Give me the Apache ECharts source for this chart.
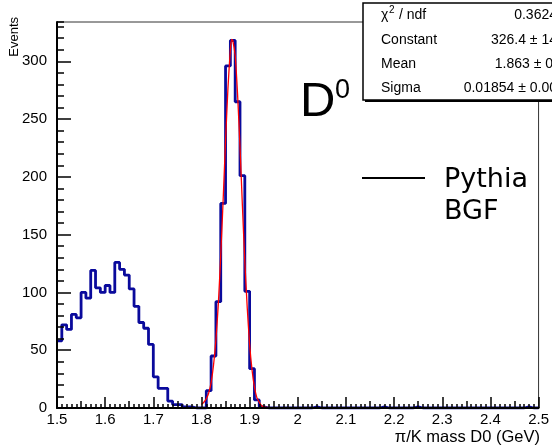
<!DOCTYPE html>
<html><head><meta charset="utf-8">
<script src="https://cdn.jsdelivr.net/npm/echarts@6/dist/echarts.min.js"></script>
<style>html,body{margin:0;padding:0;background:#fff}#c{width:552px;height:448px}</style>
</head><body><div id="c"></div>
<script>
// Histogram: 100 bins of width 0.01 from 1.5 to 2.5
const histMin = 1.5;
const histMax = 2.5;
const binWidth = 0.01;
const counts = [
  58, 72, 68, 81, 78, 100, 95, 119, 104, 100,
  106, 100, 126, 120, 115, 103, 88, 74, 69, 55,
  27, 17, 17, 6, 3, 3, 1, 1, 0, 0,
  0, 15, 45, 92, 177, 296, 318, 265, 201, 101,
  34, 7, 1, 0, 0, 0, 0, 0, 0, 0,
  0, 0, 0, 1, 0, 0, 0, 0, 0, 0,
  0, 0, 0, 0, 0, 0, 0, 1, 0, 0,
  0, 0, 0, 0, 1, 0, 0, 0, 0, 0,
  0, 0, 0, 0, 0, 0, 0, 0, 0, 0,
  0, 0, 0, 0, 0, 0, 0, 1, 0, 0
];
// Gaussian fit curve (red)
const fitMass = [1.800, 1.805, 1.810, 1.815, 1.820, 1.825, 1.830, 1.835, 1.840, 1.845, 1.850, 1.855, 1.860, 1.8625, 1.865, 1.870, 1.875, 1.880, 1.885, 1.890, 1.895, 1.900, 1.905, 1.910, 1.915, 1.920, 1.925, 1.930, 1.940, 1.950];
const fitValue = [3, 5, 8, 13, 22, 37, 59, 90, 132, 180, 231, 277, 310, 319, 318, 305, 271, 226, 175, 127, 87, 55, 33, 18, 9, 5, 2, 1, 0.2, 0];

const statLabels = ['χ', 'Constant', 'Mean', 'Sigma'];
const statValues = ['0.3624', '326.4 ± 14', '1.863 ± 0.', '0.01854 ± 0.00'];

const FONT = 'Liberation Sans';

const histData = counts.map((c, i) => [+(histMin + i * binWidth).toFixed(2), c]);
histData.push([histMax, counts[counts.length - 1]]);
const fitData = fitMass.map((m, i) => [m, fitValue[i]]);

const chart = echarts.init(document.getElementById('c'), null, {renderer: 'canvas'});

const rowY = [15, 40, 64.5, 88];
const graphics = [
  {type: 'rect', z: 100, shape: {x: 365, y: 5, width: 200, height: 97}, style: {fill: '#000'}},
  {type: 'rect', z: 101, shape: {x: 363, y: 3, width: 200, height: 97}, style: {fill: '#fff', stroke: '#000', lineWidth: 1.5}},
  {type: 'text', z: 102, x: 381, y: rowY[0], style: {text: 'χ', font: '14px ' + FONT, fill: '#000', verticalAlign: 'middle'}},
  {type: 'text', z: 102, x: 389, y: rowY[0] - 5, style: {text: '2', font: '10px ' + FONT, fill: '#000', verticalAlign: 'middle'}},
  {type: 'text', z: 102, x: 395, y: rowY[0], style: {text: ' / ndf', font: '14px ' + FONT, fill: '#000', verticalAlign: 'middle'}},
];
for (let i = 1; i < 4; i++) {
  graphics.push({type: 'text', z: 102, x: 381, y: rowY[i], style: {text: statLabels[i], font: '14px ' + FONT, fill: '#000', verticalAlign: 'middle'}});
}
for (let i = 0; i < 4; i++) {
  graphics.push({type: 'text', z: 102, x: 557, y: rowY[i], style: {text: statValues[i], font: '14px ' + FONT, fill: '#000', align: 'right', verticalAlign: 'middle'}});
}
graphics.push(
  {type: 'text', z: 102, x: 300, y: 102, style: {text: 'D', font: '49px ' + FONT, fill: '#000', verticalAlign: 'middle'}},
  {type: 'text', z: 102, x: 335, y: 91, style: {text: '0', font: '27px ' + FONT, fill: '#000', verticalAlign: 'middle'}},
  {type: 'line', z: 102, shape: {x1: 362, y1: 178, x2: 425, y2: 178}, style: {stroke: '#000', lineWidth: 2}},
  {type: 'text', z: 102, x: 444, y: 180, style: {text: 'Pythia', font: '27px "DejaVu Sans"', fill: '#000', verticalAlign: 'middle'}},
  {type: 'text', z: 102, x: 444, y: 212, style: {text: 'BGF', font: '27px "DejaVu Sans"', fill: '#000', verticalAlign: 'middle'}},
  {type: 'text', z: 102, x: 14, y: 17, rotation: Math.PI / 2, style: {text: 'Events', font: '13px ' + FONT, fill: '#000', align: 'right', verticalAlign: 'middle'}},
  {type: 'text', z: 102, x: 540, y: 437, style: {text: 'π/K mass D0 (GeV)', font: '16.5px ' + FONT, fill: '#000', align: 'right', verticalAlign: 'middle'}}
);

const option = {
  animation: false,
  backgroundColor: '#fff',
  grid: {left: 57, right: 12, top: 22, bottom: 40, show: true, borderColor: '#333', borderWidth: 1, containLabel: false},
  xAxis: [
    {
      type: 'value', min: histMin, max: histMax, interval: 0.1, position: 'bottom', z: 5,
      axisLine: {lineStyle: {color: '#000', width: 2}},
      axisTick: {inside: true, length: 11, lineStyle: {color: '#000', width: 1.5}},
      minorTick: {show: true, splitNumber: 10, length: 4, lineStyle: {color: '#000', width: 1.5}},
      splitLine: {show: false},
      axisLabel: {fontFamily: FONT, fontSize: 15, color: '#000', margin: 4,
        formatter: v => String(Math.round(v * 10) / 10)}
    },
    {
      type: 'value', min: histMin, max: histMax, interval: 0.05, position: 'bottom', z: 5,
      axisLine: {show: false},
      axisTick: {inside: true, length: 7, lineStyle: {color: '#000', width: 1.5}},
      splitLine: {show: false},
      axisLabel: {show: false}
    }
  ],
  yAxis: [
    {
      type: 'value', min: 0, max: 334, interval: 50, position: 'left', z: 5,
      axisLine: {show: true, lineStyle: {color: '#000', width: 2}},
      axisTick: {show: true, inside: true, length: 14, lineStyle: {color: '#000', width: 1.5}},
      splitLine: {show: false},
      axisLabel: {fontFamily: FONT, fontSize: 15, color: '#000', margin: 10, showMaxLabel: false}
    },
    {
      type: 'value', min: 0, max: 334, interval: 10, position: 'left', z: 5,
      axisLine: {show: false},
      axisTick: {show: true, inside: true, length: 7, lineStyle: {color: '#000', width: 1.5}},
      splitLine: {show: false},
      axisLabel: {show: false}
    }
  ],
  series: [
    {
      type: 'line', name: 'hist', step: 'end', data: histData, xAxisIndex: 0, yAxisIndex: 0,
      showSymbol: false, symbol: 'none', z: 2,
      lineStyle: {color: '#0a0a9c', width: 2.8}
    },
    {
      type: 'line', name: 'fit', data: fitData, xAxisIndex: 0, yAxisIndex: 0,
      showSymbol: false, symbol: 'none', smooth: 0.2, z: 3,
      lineStyle: {color: '#ff0000', width: 1.3}
    }
  ],
  graphic: graphics
};
chart.setOption(option);
</script>
</body></html>
